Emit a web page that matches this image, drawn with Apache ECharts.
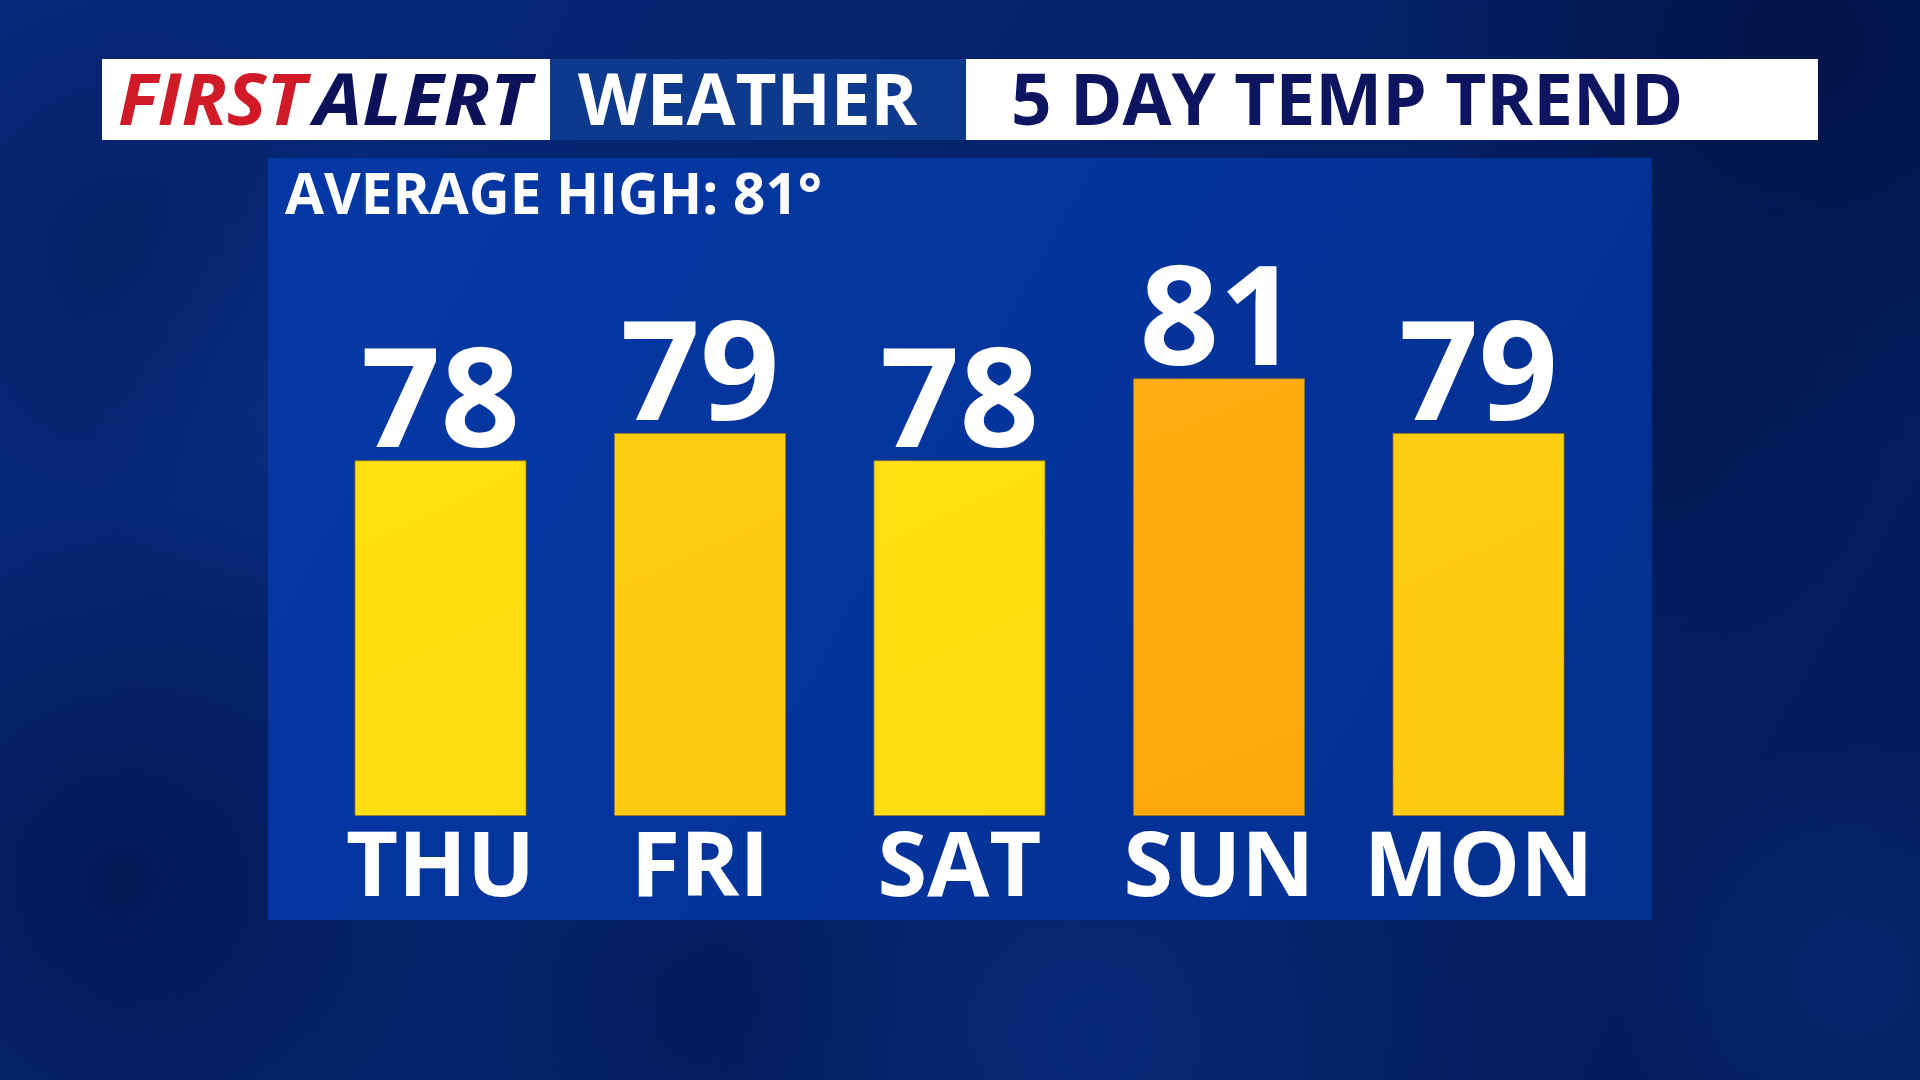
<!DOCTYPE html>
<html>
<head>
<meta charset="utf-8">
<script src="https://cdn.jsdelivr.net/npm/echarts@6/dist/echarts.min.js"></script>
<style>
html,body{margin:0;padding:0;width:1920px;height:1080px;overflow:hidden;background:#04226a;}
#c{width:1920px;height:1080px;}
</style>
</head>
<body>
<div id="c"></div>
<script>
// ---- data ----
var days = ['THU', 'FRI', 'SAT', 'SUN', 'MON'];
var highs = [78, 79, 78, 81, 79];
var averageHigh = 81;
var headerBrand1 = 'FIRST';
var headerBrand2 = 'ALERT';
var headerBrand3 = 'WEATHER';
var headerTitle = '5 DAY TEMP TREND';

// ---- style helpers ----
function barColor(t) {
  var top, bot;
  if (t >= 81) { top = '#ffad12'; bot = '#ffa70e'; }
  else if (t >= 79) { top = '#ffcd10'; bot = '#ffcb10'; }
  else { top = '#ffe010'; bot = '#ffdc10'; }
  return new echarts.graphic.LinearGradient(0, 0, 1, 1, [
    { offset: 0, color: top }, { offset: 1, color: bot }
  ]);
}
function blob(cx, cy, r, rgb, a) {
  return { type: 'circle', z: -9, shape: { cx: cx, cy: cy, r: r },
    style: { fill: new echarts.graphic.RadialGradient(0.5, 0.5, 0.5, [
      { offset: 0, color: 'rgba(' + rgb + ',' + a + ')' }, { offset: 1, color: 'rgba(' + rgb + ',0)' }]) } };
}

var chart = echarts.init(document.getElementById('c'), null, { renderer: 'canvas', width: 1920, height: 1080 });
var FONT = '"Open Sans", "DejaVu Sans", sans-serif';

var option = {
  backgroundColor: 'transparent',
  animation: false,
  graphic: [
    // background
    { type: 'rect', z: -10, shape: { x: 0, y: 0, width: 1920, height: 1080 },
      style: { fill: new echarts.graphic.LinearGradient(0, 0, 1, 1, [
        { offset: 0, color: '#07297a' }, { offset: 0.5, color: '#04226a' },
        { offset: 1, color: '#031d5c' }]) } },
    blob(1800, 40, 420, '1,15,60', 0.7),
    blob(1650, 420, 260, '1,18,70', 0.5),
    blob(120, 880, 380, '1,18,70', 0.6),
    blob(120, 250, 260, '1,18,70', 0.35),
    blob(330, 380, 260, '20,65,160', 0.3),
    blob(1100, 1040, 360, '15,55,150', 0.35),
    blob(1860, 980, 240, '15,55,150', 0.3),
    blob(700, 1000, 260, '1,18,70', 0.35),
    // header boxes
    { type: 'rect', z: -5, shape: { x: 102, y: 59, width: 448, height: 81 }, style: { fill: '#ffffff' } },
    { type: 'rect', z: -5, shape: { x: 550, y: 59, width: 416, height: 81 }, style: { fill: '#0d3a8c' } },
    { type: 'rect', z: -5, shape: { x: 966, y: 59, width: 852, height: 81 }, style: { fill: '#ffffff' } },
    { type: 'text', z: -4, x: 118, y: 105, scaleX: 1.05, style: { text: headerBrand1, fill: '#d01a28',
      font: 'italic bold 71px ' + FONT, textAlign: 'left', textVerticalAlign: 'middle' } },
    { type: 'text', z: -4, x: 314, y: 105, scaleX: 1.08, style: { text: headerBrand2, fill: '#0b1259',
      font: 'italic bold 71px ' + FONT, textAlign: 'left', textVerticalAlign: 'middle' } },
    { type: 'text', z: -4, x: 578, y: 105, style: { text: headerBrand3, fill: '#ffffff',
      font: 'bold 71px ' + FONT, textAlign: 'left', textVerticalAlign: 'middle' } },
    { type: 'text', z: -4, x: 1011, y: 105, style: { text: headerTitle, fill: '#0e1560',
      font: 'bold 71px ' + FONT, textAlign: 'left', textVerticalAlign: 'middle' } },
    // panel
    { type: 'rect', z: -5, shape: { x: 268, y: 158, width: 1384, height: 762 },
      style: { fill: new echarts.graphic.LinearGradient(0, 0, 1, 1, [
        { offset: 0, color: '#0338a4' }, { offset: 0.5, color: '#03349c' }, { offset: 1, color: '#02308f' }]) } },
    { type: 'text', z: -4, x: 285, y: 197, scaleX: 0.975, style: { text: 'AVERAGE HIGH: ' + averageHigh + '°', fill: '#ffffff',
      font: 'bold 58px ' + FONT, textAlign: 'left', textVerticalAlign: 'middle' } }
  ],
  grid: { left: 310.75, width: 1297.5, top: 269, height: 546.5, containLabel: false },
  xAxis: {
    type: 'category',
    data: days,
    axisLine: { show: false },
    axisTick: { show: false },
    axisLabel: { interval: 0, color: '#ffffff', fontFamily: FONT, fontWeight: 'bold', fontSize: 90, margin: 10 }
  },
  yAxis: {
    type: 'value',
    min: 65, max: 85,
    show: false,
    splitLine: { show: false }
  },
  series: [{
    type: 'bar',
    z: 5,
    barWidth: 172,
    data: highs.map(function (v) {
      return { value: v, itemStyle: { color: barColor(v), borderColor: 'rgba(160,120,20,0.7)', borderWidth: 1 } };
    }),
    label: {
      show: true, position: 'top', distance: -17,
      color: '#ffffff', fontFamily: FONT, fontWeight: 'bold', fontSize: 139
    }
  }]
};
chart.setOption(option);
</script>
</body>
</html>
